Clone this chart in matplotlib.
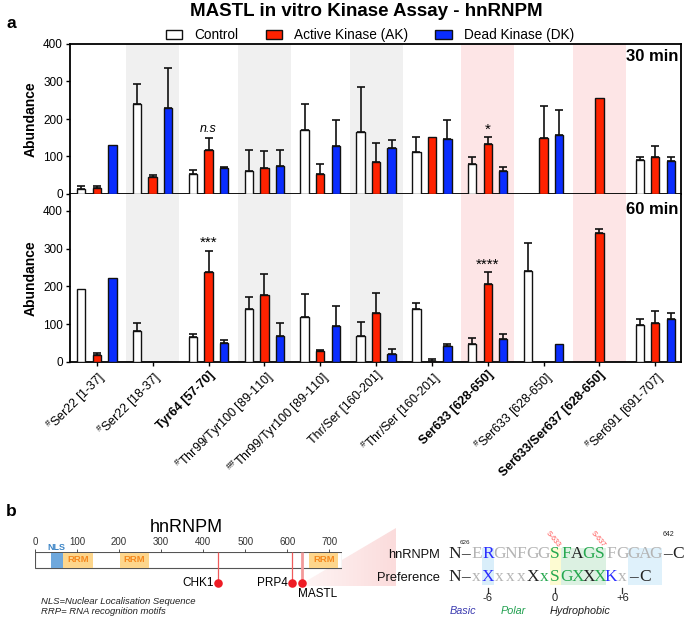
import numpy as np
import matplotlib.pyplot as plt
from matplotlib.patches import Rectangle, Polygon
from matplotlib.colors import LinearSegmentedColormap

plt.rcParams['font.family'] = ['Liberation Sans', 'DejaVu Sans']
plt.rcParams['mathtext.fontset'] = 'custom'
plt.rcParams['mathtext.rm'] = 'Liberation Sans'
plt.rcParams['mathtext.bf'] = 'Liberation Sans:bold'
plt.rcParams['mathtext.it'] = 'Liberation Sans:italic'

# ---------------- panel a data ----------------
peptides = [r'$^{\#}$Ser22 [1-37]', r'$^{\#}$Ser22 [18-37]', 'Tyr64 [57-70]',
            r'$^{\#}$Thr99/Tyr100 [89-110]', r'$^{\#\#}$Thr99/Tyr100 [89-110]',
            'Thr/Ser [160-201]', r'$^{\#}$Thr/Ser [160-201]', 'Ser633 [628-650]',
            r'$^{\#}$Ser633 [628-650]', 'Ser633/Ser637 [628-650]', r'$^{\#}$Ser691 [691-707]']
bold_peptides = [2, 7, 9]
gray_bands = [1, 3, 5]
pink_bands = [7, 9]

ctrl_30 = [12, 240, 53, 60, 170, 165, 111, 80, 0, 0, 91]
ctrl_30_err = [10, 53, 10, 58, 70, 119, 41, 18, 0, 0, 8]
ak_30 = [15, 45, 117, 70, 52, 85, 151, 134, 150, 256, 98]
ak_30_err = [7, 5, 31, 44, 28, 51, 0, 17, 85, 0, 30]
dk_30 = [130, 230, 68, 75, 127, 122, 146, 61, 156, 0, 89]
dk_30_err = [0, 105, 4, 43, 69, 22, 52, 10, 67, 0, 10]

ctrl_60 = [193, 82, 67, 140, 118, 69, 140, 49, 241, 0, 98]
ctrl_60_err = [0, 21, 6, 31, 62, 38, 17, 14, 73, 0, 16]
ak_60 = [18, 0, 238, 178, 29, 130, 3, 207, 0, 341, 104]
ak_60_err = [7, 0, 56, 55, 4, 52, 4, 31, 0, 10, 32]
dk_60 = [223, 0, 50, 69, 95, 20, 42, 61, 47, 0, 113]
dk_60_err = [0, 0, 9, 35, 53, 15, 6, 12, 0, 0, 16]

sig_30 = {2: 'n.s', 7: '*'}
sig_60 = {2: '***', 7: '****'}

series_names = ['Control', 'Active Kinase (AK)', 'Dead Kinase (DK)']
series_colors = ['white', '#ff2200', '#0a2dff']

# ---------------- panel b data ----------------
prot_len = 730
nls = (38, 66)
rrms = [(67, 138), (202, 271), (652, 721)]
kinase_names = ['CHK1', 'PRP4', 'MASTL']
kinase_sites = [435, 611, 635]

hn_seq = 'ERGNFGGSFAGSFGGAG'
hn_cols = 'abaaaaaggkggaaaaa'
pref_seq = 'xXxxxXxSGXXXKx'
pref_cols = 'abaaakggggkgba'
site_labels = {7: 'S-633', 11: 'S-637'}
pos_ticks = {1: '-6', 7: '0', 13: '+6'}
letter_colors = {'a': '#b4b4b4', 'b': '#2a2cff', 'g': '#26a84f', 'k': '#222222'}

W, H = 685, 618
fig = plt.figure(figsize=(W / 100, H / 100), dpi=100)


def px_box(x0, y0, x1, y1):
    return [x0 / W, 1 - y1 / H, (x1 - x0) / W, (y1 - y0) / H]


ax_top = fig.add_axes(px_box(70, 44, 681, 194))
ax_bot = fig.add_axes(px_box(70, 194, 681, 362))

x = np.arange(len(peptides))
offs = [-0.278, 0, 0.278]
bw = 0.15

panels = [(ax_top, [ctrl_30, ak_30, dk_30], [ctrl_30_err, ak_30_err, dk_30_err], sig_30, 400, '30 min'),
          (ax_bot, [ctrl_60, ak_60, dk_60], [ctrl_60_err, ak_60_err, dk_60_err], sig_60, 445, '60 min')]

for ax, vals, errs, sig, ytop, tlabel in panels:
    for i in gray_bands:
        ax.axvspan(i - 0.475, i + 0.475, color='#f0f0f0', lw=0, zorder=0)
    for i in pink_bands:
        ax.axvspan(i - 0.475, i + 0.475, color='#fde5e6', lw=0, zorder=0)
    for k in range(3):
        v = np.array(vals[k], dtype=float)
        e = np.array(errs[k], dtype=float)
        ax.bar(x + offs[k], v, width=bw, color=series_colors[k], edgecolor='#111111',
               linewidth=1.0, zorder=3, label=series_names[k])
        m = e > 0
        ax.errorbar(x[m] + offs[k], v[m], yerr=[np.zeros(m.sum()), e[m]], fmt='none',
                    ecolor='#111111', elinewidth=1.2, capsize=2.6, capthick=1.2, zorder=2)
    for i, s in sig.items():
        top = vals[1][i] + errs[1][i]
        if s == 'n.s':
            ax.text(i, top + 8, s, ha='center', va='bottom', fontsize=9, style='italic')
        else:
            ax.text(i, top + 2, s, ha='center', va='bottom', fontsize=11)
    ax.set_xlim(-0.48, 10.46)
    ax.set_ylim(0, ytop)
    ax.set_yticks([0, 100, 200, 300, 400])
    ax.set_xticks(x)
    ax.tick_params(axis='both', length=3, width=1, labelsize=8.5, pad=2)
    ax.set_ylabel('Abundance', fontsize=10, fontweight='bold', labelpad=4)
    for sp in ax.spines.values():
        sp.set_linewidth(1.3)
    ax.text(0.996, 0.965 if ax is ax_top else 0.955, tlabel, transform=ax.transAxes,
            ha='right', va='top', fontsize=12, fontweight='bold')

ax_top.set_xticklabels([])
ax_bot.spines['top'].set_visible(False)
ax_bot.set_xticklabels(peptides, rotation=45, ha='right', rotation_mode='anchor', fontsize=9)
for i, lab in enumerate(ax_bot.get_xticklabels()):
    if i in bold_peptides:
        lab.set_fontweight('bold')

handles, labels = ax_top.get_legend_handles_labels()
fig.legend(handles, labels, loc='center', bbox_to_anchor=(370 / W, 1 - 35 / H), ncol=3,
           frameon=False, fontsize=9.8, handlelength=1.2, handleheight=0.6,
           handletextpad=0.9, columnspacing=2.0)
fig.text(366 / W, 1 - 11 / H, 'MASTL in vitro Kinase Assay - hnRNPM', ha='center', va='center',
         fontsize=13.5, fontweight='bold')
fig.text(6 / W, 1 - 23 / H, 'a', ha='left', va='center', fontsize=12.5, fontweight='bold')

# ---------------- panel b ----------------
ax_over = fig.add_axes([0, 0, 1, 1], zorder=1)
ax_over.patch.set_visible(False)
wedge = Polygon([(303, 583), (396, 528), (396, 586), (303, 586)], closed=True,
                facecolor='none', edgecolor='none')
ax_over.add_patch(wedge)
cm = LinearSegmentedColormap.from_list('pk', ['#fef4f4', '#fbdcdc'])
grad = np.linspace(0, 1, 50).reshape(1, -1)
im = ax_over.imshow(grad, extent=[303, 396, 586, 528], cmap=cm, aspect='auto', zorder=1)
im.set_clip_path(wedge)
ax_over.set_xlim(0, W)
ax_over.set_ylim(H, 0)
ax_over.axis('off')
ax_over.text(6, 512, 'b', ha='left', va='center', fontsize=12.5, fontweight='bold')
ax_over.text(186, 527, 'hnRNPM', ha='center', va='center', fontsize=13)
ax_over.text(41, 602, 'NLS=Nuclear Localisation Sequence', ha='left', va='center',
             fontsize=6.8, style='italic', color='#222222')
ax_over.text(41, 612, 'RRP= RNA recognition motifs', ha='left', va='center',
             fontsize=6.8, style='italic', color='#222222')

# domain diagram, x in residues
ax_dom = fig.add_axes(px_box(35, 552, 342, 600), zorder=2)
ax_dom.patch.set_visible(False)
ax_dom.set_xlim(0, prot_len)
ax_dom.set_ylim(600, 552)
ax_dom.add_patch(Rectangle((0, 552), prot_len, 16, facecolor='white', edgecolor='#555555',
                           lw=0.8, zorder=1))
ax_dom.add_patch(Rectangle((nls[0], 552.5), nls[1] - nls[0], 15, facecolor='#6fa8dc',
                           edgecolor='none', zorder=2))
ax_dom.text((nls[0] + nls[1]) / 2, 548, 'NLS', ha='center', va='center', fontsize=6.5,
            fontweight='bold', color='#3d85c6', clip_on=False)
for a, b in rrms:
    ax_dom.add_patch(Rectangle((a, 552.5), b - a, 15, facecolor='#fdd68c', edgecolor='none', zorder=2))
    ax_dom.text((a + b) / 2, 560, 'RRM', ha='center', va='center', fontsize=6.8,
                fontweight='bold', color='#f5891f', zorder=3)
for name, s in zip(kinase_names, kinase_sites):
    lw = 2.0 if name == 'MASTL' else 0.9
    col = '#f39a9a' if name == 'MASTL' else '#ee5a5a'
    ax_dom.plot([s, s], [552, 583], color=col, lw=lw, zorder=4, solid_capstyle='butt')
    if name == 'MASTL':
        ax_dom.annotate(name, (s, 583), xytext=(11.5, -8), textcoords='offset points',
                        ha='center', va='center', fontsize=8.5, annotation_clip=False)
    else:
        ax_dom.annotate(name, (s, 583), xytext=(-3.2, 0), textcoords='offset points',
                        ha='right', va='center', fontsize=8.5, annotation_clip=False)
ax_dom.scatter(kinase_sites, [583] * len(kinase_sites), s=38, color='#ee1c25', zorder=5,
               clip_on=False, linewidths=0)
for sp in ax_dom.spines.values():
    sp.set_visible(False)
ax_dom.xaxis.tick_top()
ax_dom.set_xticks(range(0, 701, 100))
ax_dom.set_yticks([])
ax_dom.tick_params(axis='x', length=2.5, width=0.6, pad=1, labelsize=7, colors='#333333')

# sequence alignment, x in residue positions
sx0, sdx = 476.7, 11.2
ax_seq = fig.add_axes(px_box(370, 520, 685, 618), zorder=3)
ax_seq.patch.set_visible(False)
ax_seq.set_xlim((370 - sx0) / sdx, (685 - sx0) / sdx)
ax_seq.set_ylim(618, 520)
ax_seq.axis('off')

for a, b, c in [(0.5, 1.5, '#d9eefa'), (6.5, 7.5, '#fdfbd2'), (7.5, 11.5, '#dcf1e2'),
                (13.5, 16.5, '#dff1fb')]:
    ax_seq.add_patch(Rectangle((a, 548), b - a, 37, facecolor=c, edgecolor='none', zorder=0))

seq_font = dict(ha='center', va='baseline', fontsize=12.5, family='Liberation Serif')
rows = [('hnRNPM', hn_seq, hn_cols, 558.5), ('Preference', pref_seq, pref_cols, 581)]
for label, seq, cols, yb in rows:
    ax_seq.text(-3.3, yb, label, ha='right', va='baseline', fontsize=9.3, color='#111111')
    ax_seq.text(-2, yb, 'N', color='#222222', **seq_font)
    ax_seq.text(-1, yb, '–', color='#222222', **seq_font)
    for i, (ch, c) in enumerate(zip(seq, cols)):
        ax_seq.text(i, yb, ch, color=letter_colors[c], **seq_font)
    ax_seq.text(len(seq), yb, '–', color='#222222', **seq_font)
    ax_seq.text(len(seq) + 1, yb, 'C', color='#222222', **seq_font)

ax_seq.text(-1.05, 543, '626', ha='center', va='center', fontsize=4.5, color='#222222')
ax_seq.text(len(hn_seq) + 0.1, 535, '642', ha='center', va='center', fontsize=5, color='#222222')
for i, s in site_labels.items():
    ax_seq.text(i - 0.2, 539, s, ha='center', va='center', fontsize=5, color='#ff4d4d',
                rotation=-50)
for i, s in pos_ticks.items():
    ax_seq.plot([i, i], [588, 593], color='#333333', lw=0.9)
    ax_seq.text(i, 593.5, s, ha='center', va='top', fontsize=8, color='#222222')

ax_seq.text(-1.2, 611, 'Basic', ha='center', va='center', fontsize=7.8, style='italic',
            color='#3a3ab0')
ax_seq.text(3.25, 611, 'Polar', ha='center', va='center', fontsize=7.8, style='italic',
            color='#22a050')
ax_seq.text(9.2, 611, 'Hydrophobic', ha='center', va='center', fontsize=7.8, style='italic',
            color='#222222')

plt.savefig('out.png', dpi=100)
